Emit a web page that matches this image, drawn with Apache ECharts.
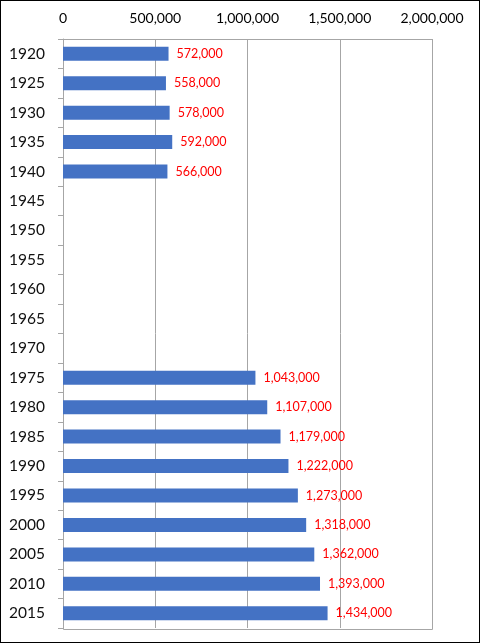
<!DOCTYPE html>
<html>
<head>
<meta charset="utf-8">
<script src="https://cdn.jsdelivr.net/npm/echarts@6/dist/echarts.min.js"></script>
<style>
  html, body { margin: 0; padding: 0; background: #fff; }
  #chart { width: 480px; height: 643px; box-sizing: border-box; border: 1px solid #000; }
</style>
</head>
<body>
<div id="chart"></div>
<script>
// Datos del gráfico
const years = ['1920', '1925', '1930', '1935', '1940', '1945', '1950', '1955', '1960', '1965',
  '1970', '1975', '1980', '1985', '1990', '1995', '2000', '2005', '2010', '2015'];
const population = [572000, 558000, 578000, 592000, 566000, null, null, null, null, null,
  null, 1043000, 1107000, 1179000, 1222000, 1273000, 1318000, 1362000, 1393000, 1434000];
const xTicks = [0, 500000, 1000000, 1500000, 2000000];

const chart = echarts.init(document.getElementById('chart'));
const font = 'Lato, "Open Sans", sans-serif';

chart.setOption({
  animation: false,
  grid: { left: 62, right: 47, top: 38, bottom: 14 },
  xAxis: {
    type: 'value',
    position: 'top',
    min: xTicks[0],
    max: xTicks[xTicks.length - 1],
    interval: 500000,
    axisLine: { show: false },
    axisTick: { show: false },
    axisLabel: {
      color: '#000',
      fontFamily: font,
      fontSize: 14,
      margin: 14,
      formatter: v => v.toLocaleString('en-US')
    },
    splitLine: { lineStyle: { color: '#a6a6a6', width: 1 } }
  },
  yAxis: {
    type: 'category',
    data: years,
    inverse: true,
    axisLine: { show: true, lineStyle: { color: '#a6a6a6' } },
    axisTick: { show: true, length: 5, lineStyle: { color: '#a6a6a6' } },
    axisLabel: { color: '#111', fontFamily: font, fontSize: 15.5, margin: 18 },
    splitLine: { show: false }
  },
  series: [{
    type: 'bar',
    data: population,
    barWidth: 14,
    itemStyle: { color: '#4472c4' },
    label: {
      show: true,
      position: 'right',
      distance: 8,
      color: '#ff0000',
      fontFamily: font,
      fontSize: 12.5,
      formatter: p => p.value == null ? '' : p.value.toLocaleString('en-US')
    }
  }],
  graphic: [{
    type: 'rect',
    shape: { x: 62.5, y: 38.5, width: 369, height: 590 },
    style: { fill: 'none', stroke: '#a6a6a6', lineWidth: 1 },
    silent: true
  }]
});
</script>
</body>
</html>
